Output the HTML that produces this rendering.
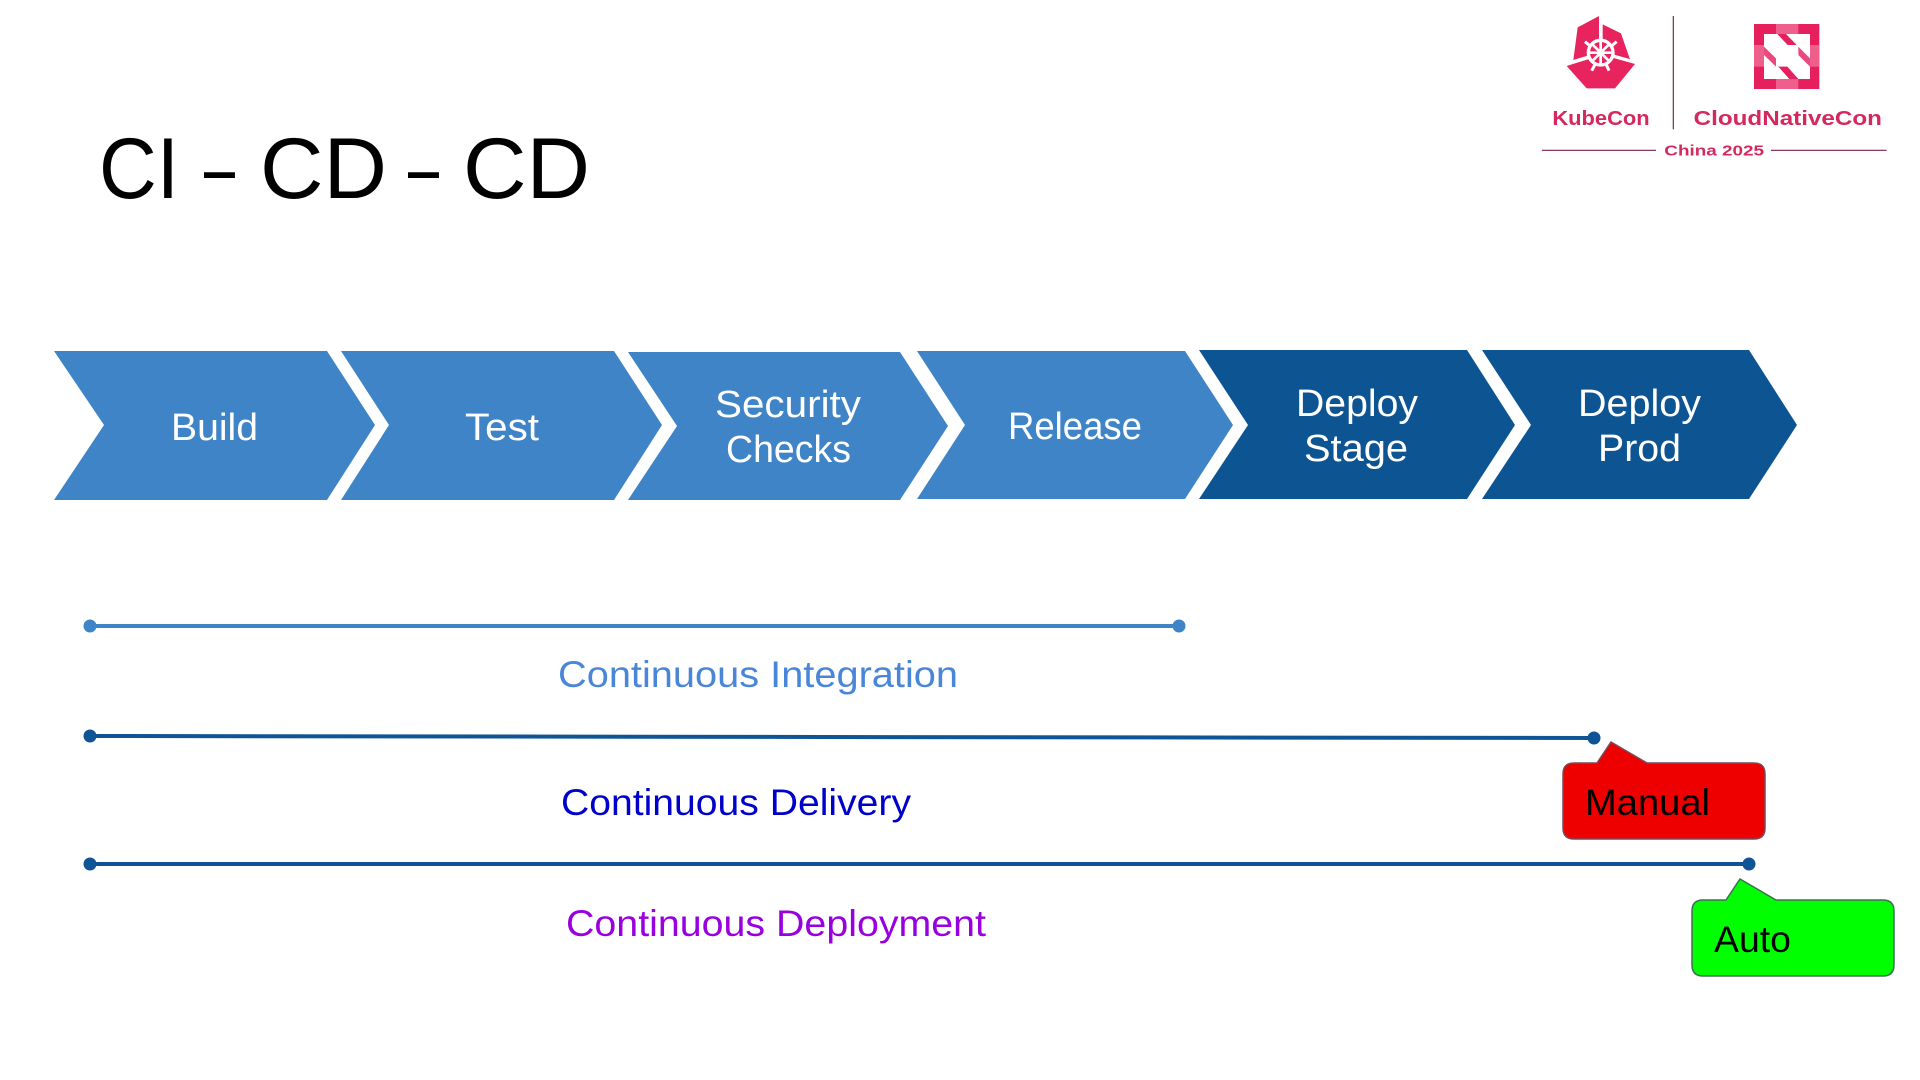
<!DOCTYPE html>
<html><head><meta charset="utf-8"><style>
html,body{margin:0;padding:0;background:#fff;width:1920px;height:1080px;overflow:hidden}
svg{display:block}
text{font-family:"Liberation Sans",sans-serif}
.w{fill:#fff;font-size:38px}
</style></head><body>
<svg width="1920" height="1080" viewBox="0 0 1920 1080" xmlns="http://www.w3.org/2000/svg">
<rect width="1920" height="1080" fill="#fff"/>
<g font-size="86" fill="#000">
<text x="99" y="198" textLength="80" lengthAdjust="spacingAndGlyphs">CI</text>
<text x="204" y="197" textLength="31" lengthAdjust="spacingAndGlyphs">–</text>
<text x="260" y="198" textLength="127" lengthAdjust="spacingAndGlyphs">CD</text>
<text x="408" y="197" textLength="31" lengthAdjust="spacingAndGlyphs">–</text>
<text x="463" y="198" textLength="127" lengthAdjust="spacingAndGlyphs">CD</text>
</g>

<polygon points="54,351 327,351 375,425 327,500 54,500 104,425" fill="#3f84c6"/>
<polygon points="341,351 614,351 662,425 614,500 341,500 389,425" fill="#3f84c6"/>
<polygon points="628,352 900,352 948,426 900,500 628,500 677,426" fill="#3f84c6"/>
<polygon points="917,351 1185,351 1233,425 1185,499 917,499 965,425" fill="#3f84c6"/>
<polygon points="1199,350 1467,350 1515,425 1467,499 1199,499 1248,425" fill="#0d5493"/>
<polygon points="1482,350 1749,350 1797,425 1749,499 1482,499 1531,425" fill="#0d5493"/>

<text class="w" x="171" y="440" textLength="87" lengthAdjust="spacingAndGlyphs">Build</text>
<text class="w" x="465" y="440" textLength="74" lengthAdjust="spacingAndGlyphs">Test</text>
<text class="w" x="715" y="417" textLength="146" lengthAdjust="spacingAndGlyphs">Security</text>
<text class="w" x="726" y="462" textLength="125" lengthAdjust="spacingAndGlyphs">Checks</text>
<text class="w" x="1008" y="439" textLength="134" lengthAdjust="spacingAndGlyphs">Release</text>
<text class="w" x="1296" y="416" textLength="122" lengthAdjust="spacingAndGlyphs">Deploy</text>
<text class="w" x="1304" y="461" textLength="104" lengthAdjust="spacingAndGlyphs">Stage</text>
<text class="w" x="1578" y="416" textLength="123" lengthAdjust="spacingAndGlyphs">Deploy</text>
<text class="w" x="1598" y="461" textLength="83" lengthAdjust="spacingAndGlyphs">Prod</text>

<line x1="90" y1="626" x2="1179" y2="626" stroke="#3f84c6" stroke-width="4"/>
<circle cx="90" cy="626" r="6.5" fill="#3f84c6"/><circle cx="1179" cy="626" r="6.5" fill="#3f84c6"/>
<line x1="90" y1="736" x2="1594" y2="738" stroke="#0f5596" stroke-width="4"/>
<circle cx="90" cy="736" r="6.5" fill="#0f5596"/><circle cx="1594" cy="738" r="6.5" fill="#0f5596"/>
<line x1="90" y1="864" x2="1749" y2="864" stroke="#0f5596" stroke-width="4"/>
<circle cx="90" cy="864" r="6.5" fill="#0f5596"/><circle cx="1749" cy="864" r="6.5" fill="#0f5596"/>

<text x="558" y="687" font-size="37" fill="#4a86d8" textLength="400" lengthAdjust="spacingAndGlyphs">Continuous Integration</text>
<text x="561" y="815" font-size="37" fill="#0000cc" textLength="350" lengthAdjust="spacingAndGlyphs">Continuous Delivery</text>
<text x="566" y="936" font-size="37" fill="#9900e0" textLength="420" lengthAdjust="spacingAndGlyphs">Continuous Deployment</text>

<path d="M1574,763 L1597,763 L1611,742 L1647,763 L1754,763 Q1765,763 1765,774 L1765,828 Q1765,839 1754,839 L1574,839 Q1563,839 1563,828 L1563,774 Q1563,763 1574,763 Z" fill="#ee0000" stroke="#7a4a5a" stroke-width="1.5"/>
<text x="1585" y="815" font-size="37" fill="#000" textLength="125" lengthAdjust="spacingAndGlyphs">Manual</text>
<path d="M1703,900 L1726,900 L1740,879 L1776,900 L1883,900 Q1894,900 1894,911 L1894,965 Q1894,976 1883,976 L1703,976 Q1692,976 1692,965 L1692,911 Q1692,900 1703,900 Z" fill="#00ff00" stroke="#3f6f55" stroke-width="1.5"/>
<text x="1714" y="952" font-size="37" fill="#000" textLength="77" lengthAdjust="spacingAndGlyphs">Auto</text>

<g transform="translate(1565,10) scale(0.3333)">
  <polygon points="102,18 38,52 25,150 70,136 102,95" fill="#e8245f"/>
  <polygon points="113,43 168,70 195,148 150,135 113,92" fill="#e8245f"/>
  <polygon points="5,168 65,235 150,235 210,162 150,145 107,130 62,148" fill="#e8245f"/>
  <path d="M5,163 L70,143 M145,138 L205,155" stroke="#fff" stroke-width="9" fill="none"/>
  <path d="M60,95 L80,112 M155,95 L135,112 M80,182 L92,160 M132,182 L122,160" stroke="#fff" stroke-width="9"/>
  <circle cx="107" cy="128" r="37" fill="#e8245f" stroke="#fff" stroke-width="10"/>
  <path d="M107,91 L107,165 M70,128 L144,128 M81,102 L133,154 M133,102 L81,154" stroke="#fff" stroke-width="8"/>
</g>
<g transform="translate(1750,15) scale(0.3333)">
  <rect x="12" y="27" width="196" height="195" fill="#e5205c"/>
  <rect x="78" y="27" width="67" height="195" fill="#ee5f8c"/>
  <rect x="12" y="90" width="196" height="65" fill="#ee5f8c"/>
  <rect x="42" y="57" width="138" height="135" fill="#fff"/>
  <polygon points="82,57 108,57 140,90 113,90" fill="#e5205c"/>
  <polygon points="145,95 180,130 180,155 145,120" fill="#ea4a7e"/>
  <polygon points="42,95 78,130 78,155 42,120" fill="#ea4a7e"/>
  <polygon points="85,155 112,155 145,192 118,192" fill="#e5205c"/>
</g>
<g transform="translate(1520,0) scale(0.3333)">
  <line x1="460" y1="48" x2="460" y2="388" stroke="#7a2050" stroke-width="3.5"/>
  <line x1="66" y1="451" x2="408" y2="451" stroke="#7a2050" stroke-width="3.5"/>
  <line x1="753" y1="451" x2="1100" y2="451" stroke="#7a2050" stroke-width="3.5"/>
  <text x="97" y="375" font-size="60" font-weight="bold" fill="#d4285f" textLength="292" lengthAdjust="spacingAndGlyphs">KubeCon</text>
  <text x="521" y="375" font-size="60" font-weight="bold" fill="#d4285f" textLength="565" lengthAdjust="spacingAndGlyphs">CloudNativeCon</text>
  <text x="433" y="467" font-size="44" font-weight="bold" fill="#d4285f" textLength="299" lengthAdjust="spacingAndGlyphs">China 2025</text>
</g>
</svg>
</body></html>
